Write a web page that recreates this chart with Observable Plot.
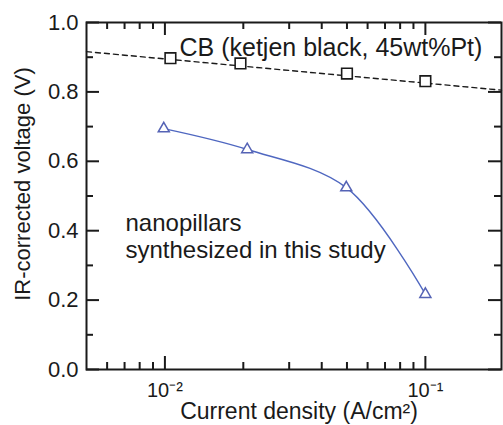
<!DOCTYPE html>
<html><head><meta charset="utf-8">
<script src="https://cdn.jsdelivr.net/npm/d3@7"></script>
<script src="https://cdn.jsdelivr.net/npm/@observablehq/plot@0.6"></script>
<style>body{margin:0;background:#fff}svg{display:block}</style>
</head><body><div id="chart"></div>
<script>
// Data
const cbDensity = [0.0105, 0.0195, 0.05, 0.1];
const cbVoltage = [0.897, 0.882, 0.853, 0.831];
const cbFitDensity = [0.005, 0.196];
const cbFitVoltage = [0.916, 0.805];
const npDensity = [0.0099, 0.0207, 0.0497, 0.1];
const npVoltage = [0.694, 0.634, 0.524, 0.217];
const xMajorTicks = [0.01, 0.1];
const xTickLabels = ["10⁻²", "10⁻¹"];
const xMinorTicks = [0.006, 0.007, 0.008, 0.009, 0.02, 0.03, 0.04, 0.05, 0.06, 0.07, 0.08, 0.09];
const yMajorTicks = [0, 0.2, 0.4, 0.6, 0.8, 1.0];
const yMinorTicks = [0.1, 0.3, 0.5, 0.7, 0.9];
const cbLabel = "CB (ketjen black, 45wt%Pt)";
const npLabel = "nanopillars\nsynthesized in this study";
const xTitle = "Current density (A/cm²)";
const yTitle = "IR-corrected voltage (V)";

const cb = cbDensity.map((x, i) => ({x, y: cbVoltage[i]}));
const cbFit = cbFitDensity.map((x, i) => ({x, y: cbFitVoltage[i]}));
const np = npDensity.map((x, i) => ({x, y: npVoltage[i]}));

const font = "'Liberation Sans', Arial, sans-serif";
const ink = "#1a1a1a";
const blue = "#4f67c0";

const W = 503, H = 425, ML = 86, MR = 2, MT = 22, MB = 56;
const FW = W - ML - MR, FH = H - MT - MB;
const major = 13, minor = 7;

const chart = Plot.plot({
  width: W,
  height: H,
  marginLeft: ML,
  marginRight: MR,
  marginTop: MT,
  marginBottom: MB,
  style: {fontFamily: font, color: ink, background: "white"},
  x: {type: "log", domain: [0.005, 0.196]},
  y: {domain: [0, 1]},
  marks: [
    // inward tick marks on all four sides
    Plot.tickX(xMajorTicks, {x: d => d, insetTop: FH - major, stroke: ink, strokeWidth: 2}),
    Plot.tickX(xMinorTicks, {x: d => d, insetTop: FH - minor, stroke: ink, strokeWidth: 2}),
    Plot.tickX(xMajorTicks, {x: d => d, insetBottom: FH - major, stroke: ink, strokeWidth: 2}),
    Plot.tickX(xMinorTicks, {x: d => d, insetBottom: FH - minor, stroke: ink, strokeWidth: 2}),
    Plot.tickY(yMajorTicks, {y: d => d, insetRight: FW - major, stroke: ink, strokeWidth: 2}),
    Plot.tickY(yMinorTicks, {y: d => d, insetRight: FW - minor, stroke: ink, strokeWidth: 2}),
    Plot.tickY(yMajorTicks, {y: d => d, insetLeft: FW - major, stroke: ink, strokeWidth: 2}),
    Plot.tickY(yMinorTicks, {y: d => d, insetLeft: FW - minor, stroke: ink, strokeWidth: 2}),
    // tick labels
    Plot.axisX({anchor: "bottom", ticks: xMajorTicks, tickSize: 0, tickPadding: 13, fontSize: 20,
      tickFormat: d => xTickLabels[xMajorTicks.indexOf(d)], label: null}),
    Plot.axisY({anchor: "left", ticks: yMajorTicks, tickSize: 0, tickPadding: 8, fontSize: 22,
      tickFormat: d => d.toFixed(1), label: null}),
    Plot.frame({stroke: ink, strokeWidth: 2}),
    // series
    Plot.line(cbFit, {x: "x", y: "y", stroke: ink, strokeWidth: 1.4, strokeDasharray: "5,4"}),
    Plot.line(np, {x: "x", y: "y", stroke: blue, strokeWidth: 1.4, curve: "catmull-rom"}),
    Plot.dot(cb, {x: "x", y: "y", symbol: "square", r: 6, stroke: ink, strokeWidth: 1.6, fill: "white"}),
    Plot.dot(np, {x: "x", y: "y", symbol: "triangle", r: 4.1, stroke: "#5563b5", strokeWidth: 1.5, fill: "white"}),
    // annotations
    Plot.text([cbLabel], {frameAnchor: "top-left", text: d => d, textAnchor: "start", lineAnchor: "bottom",
      dx: 93, dy: 33, fontSize: 25, fill: ink}),
    Plot.text([npLabel], {frameAnchor: "top-left", text: d => d, textAnchor: "start", lineAnchor: "bottom",
      dx: 39, dy: 235, fontSize: 24, lineHeight: 1.1, fill: ink}),
    // axis titles
    Plot.text([xTitle], {frameAnchor: "bottom", text: d => d, textAnchor: "middle", lineAnchor: "middle",
      dx: 5, dy: 42, fontSize: 23, fill: ink}),
    Plot.text([yTitle], {frameAnchor: "left", text: d => d, textAnchor: "middle", lineAnchor: "middle",
      rotate: -90, dx: -64, dy: -12, fontSize: 22, fill: ink})
  ]
});
document.getElementById("chart").append(chart);
</script>
</body></html>
